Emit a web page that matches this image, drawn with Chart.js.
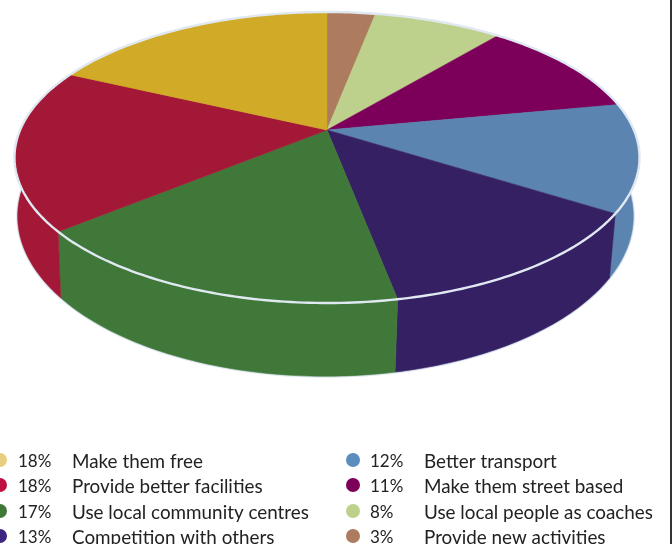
<!DOCTYPE html>
<html>
<head>
<meta charset="utf-8">
<title>Pie</title>
<script src="https://cdn.jsdelivr.net/npm/chart.js@4"></script>
<style>
html, body { margin: 0; padding: 0; background: #fff; overflow: hidden; }
#wrap { position: relative; width: 672px; height: 544px; }
#edge { position: absolute; left: 670px; top: 0; width: 2px; height: 544px; background: #333; }
</style>
</head>
<body>
<div id="wrap">
<canvas id="chartPie" width="672" height="544"></canvas>
<div id="edge"></div>
</div>
<script>
// legend order, the pie itself runs the other way round from 12 o'clock
var categories = ['Make them free', 'Provide better facilities', 'Use local community centres', 'Competition with others',
                  'Better transport', 'Make them street based', 'Use local people as coaches', 'Provide new activities'];
var percents = [18, 18, 17, 13, 12, 11, 8, 3];
var topColours = ['#d1aa27', '#a31836', '#3f7838', '#352063', '#5b85b0', '#7c0059', '#bdd18c', '#ad7b5e'];
var bulletColours = ['#e8ce80', '#be1040', '#3f7838', '#3d2480', '#5b8dbf', '#7c0059', '#bdd18c', '#ad7b5e'];

// perspective of the disk
var TILT = -0.189;
var topDisk = { cx: 327, cy: 130, a: 306.9, b: 140.3 };
var lowDisk = { cx: 325.5, cy: 186, a: 302.3, b: 154.3 };
var RIM = '#e0e8f2';

function project(disk, angle) {
    var u = Math.cos(angle), v = Math.sin(angle);
    var w = 1 + TILT * v;
    return { x: disk.cx + disk.a * u / w, y: disk.cy + disk.b * v / w };
}

function rimPath(ctx, disk, from, to, move) {
    var steps = Math.max(2, Math.ceil(Math.abs(to - from) * 60));
    for (var i = 0; i <= steps; i++) {
        var p = project(disk, from + (to - from) * i / steps);
        if (i === 0 && move) ctx.moveTo(p.x, p.y); else ctx.lineTo(p.x, p.y);
    }
}

var perspectivePie = {
    id: 'perspectivePie',
    beforeDatasetsDraw: function(chart) {
        var ctx = chart.ctx;
        var arcs = chart.getDatasetMeta(0).data;
        var colours = chart.data.datasets[0].backgroundColor;
        ctx.save();
        ctx.lineJoin = 'round';

        // outline of the lower rim first so the walls sit on it
        ctx.beginPath();
        rimPath(ctx, lowDisk, -0.1, Math.PI + 0.1, true);
        ctx.strokeStyle = RIM;
        ctx.lineWidth = 3;
        ctx.stroke();

        // walls
        arcs.forEach(function(arc, i) {
            ctx.beginPath();
            rimPath(ctx, topDisk, arc.startAngle, arc.endAngle, true);
            rimPath(ctx, lowDisk, arc.endAngle, arc.startAngle, false);
            ctx.closePath();
            ctx.fillStyle = colours[i];
            ctx.strokeStyle = colours[i];
            ctx.lineWidth = 0.6;
            ctx.fill();
            ctx.stroke();
        });

        // top face
        arcs.forEach(function(arc, i) {
            ctx.beginPath();
            ctx.moveTo(topDisk.cx, topDisk.cy);
            rimPath(ctx, topDisk, arc.startAngle, arc.endAngle, false);
            ctx.closePath();
            ctx.fillStyle = colours[i];
            ctx.strokeStyle = colours[i];
            ctx.lineWidth = 0.6;
            ctx.fill();
            ctx.stroke();
        });

        ctx.beginPath();
        rimPath(ctx, topDisk, 0, Math.PI * 2, true);
        ctx.closePath();
        ctx.strokeStyle = RIM;
        ctx.lineWidth = 2.4;
        ctx.stroke();
        ctx.restore();
        return false;
    },
    afterDraw: function(chart) {
        var ctx = chart.ctx;
        var rows = [462, 487, 513, 538];
        var cols = [{ dot: 0, pct: 18, label: 72 }, { dot: 353, pct: 370, label: 424 }];
        ctx.save();
        ctx.textBaseline = 'middle';
        categories.forEach(function(name, i) {
            var col = cols[i < 4 ? 0 : 1], y = rows[i % 4];
            ctx.beginPath();
            ctx.arc(col.dot, y - 2, 7, 0, Math.PI * 2);
            ctx.fillStyle = bulletColours[i];
            ctx.fill();
            ctx.fillStyle = '#222';
            ctx.font = '17px Lato';
            ctx.fillText(percents[i] + '%', col.pct, y);
            ctx.font = '18.85px Lato';
            ctx.fillText(name, col.label, y);
        });
        ctx.restore();
    }
};

function drawPie() {
    new Chart(document.getElementById('chartPie'), {
        type: 'pie',
        data: {
            labels: categories.slice().reverse(),
            datasets: [{
                data: percents.slice().reverse(),
                backgroundColor: topColours.slice().reverse()
            }]
        },
        options: {
            responsive: false,
            animation: false,
            plugins: { legend: { display: false }, tooltip: { enabled: false } }
        },
        plugins: [perspectivePie]
    });
}
drawPie();
</script>
</body>
</html>
